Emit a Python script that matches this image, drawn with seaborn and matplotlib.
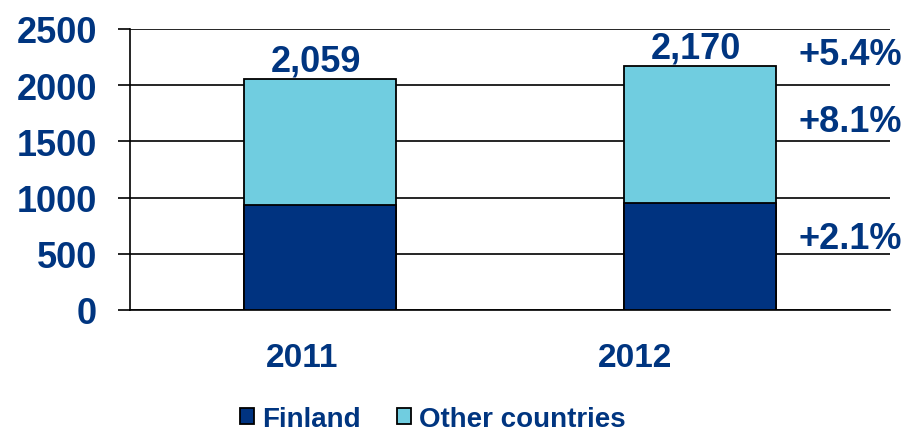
import matplotlib
matplotlib.use("Agg")
import matplotlib.pyplot as plt
import seaborn as sns

# Net sales by market area, 2011 vs 2012
years = ["2011", "2012"]
finland = [934, 954]
other_countries = [1125, 1216]
totals = [f + o for f, o in zip(finland, other_countries)]
y_ticks = [0, 500, 1000, 1500, 2000, 2500]

NAVY = "#003380"
LIGHT = "#70CDE0"
TEXT = "#003580"

sns.set_style("white")
plt.rcParams["font.family"] = ["Liberation Sans", "DejaVu Sans"]
plt.rcParams["font.weight"] = "bold"

fig = plt.figure(figsize=(9.08, 4.35), dpi=100)
ax = fig.add_axes([130 / 908, (435 - 311) / 435, 760 / 908, 281 / 435])

# Stacked bars: totals in light blue, Finland drawn over the lower part
sns.barplot(x=years, y=totals, color=LIGHT, width=0.4, edgecolor="black",
            linewidth=1.3, saturation=1, ax=ax, zorder=3)
sns.barplot(x=years, y=finland, color=NAVY, width=0.4, edgecolor="black",
            linewidth=1.3, saturation=1, ax=ax, zorder=4)

ax.set_xlim(-0.5, 1.5)
ax.set_ylim(0, 2500)
ax.set_yticks(y_ticks)
ax.set_yticklabels([str(t) for t in y_ticks])
ax.set_axisbelow(True)
ax.yaxis.grid(True, color="black", linewidth=1.2)
ax.xaxis.grid(False)
for side in ("top", "right"):
    ax.spines[side].set_visible(False)
for side in ("left", "bottom"):
    ax.spines[side].set_color("black")
    ax.spines[side].set_linewidth(1.2)

ax.tick_params(axis="y", length=8.6, width=1.2, color="black", pad=15,
               labelsize=26, labelcolor=TEXT, direction="out", left=True)
ax.set_xticks([-0.047, 0.829])
ax.set_xticklabels(years)
ax.tick_params(axis="x", length=0, pad=23, labelsize=24, labelcolor=TEXT)
for lbl in ax.get_xticklabels() + ax.get_yticklabels():
    lbl.set_fontweight("bold")
ax.set_xlabel("")
ax.set_ylabel("")

# Total labels above each bar
for i, t in enumerate(totals):
    ax.annotate(f"{t:,}", xy=(i, t), xytext=(-3, 6), textcoords="offset points",
                ha="center", va="baseline", fontsize=26, fontweight="bold",
                color=TEXT)

# Year-on-year growth labels
growth_total = (totals[1] / totals[0] - 1) * 100
growth_other = (other_countries[1] / other_countries[0] - 1) * 100
growth_fin = (finland[1] / finland[0] - 1) * 100
for y, g in [(2275, growth_total), (1680, growth_other), (635, growth_fin)]:
    ax.text(1.258, y, f"+{g:.1f}%", ha="left", va="center", fontsize=26,
            fontweight="bold", color=TEXT, clip_on=False)

handles = [
    plt.Rectangle((0, 0), 1, 1, facecolor=NAVY, edgecolor="black", linewidth=1.3),
    plt.Rectangle((0, 0), 1, 1, facecolor=LIGHT, edgecolor="black", linewidth=1.3),
]
leg = fig.legend(handles, ["Finland", "Other countries"], loc="center",
                 bbox_to_anchor=(0.477, 0.034), ncol=2, frameon=False,
                 handlelength=0.5, handleheight=0.5, handletextpad=0.3,
                 columnspacing=1.3, prop={"size": 20, "weight": "bold"})
for txt in leg.get_texts():
    txt.set_color(TEXT)

fig.savefig("out.png", dpi=100)
